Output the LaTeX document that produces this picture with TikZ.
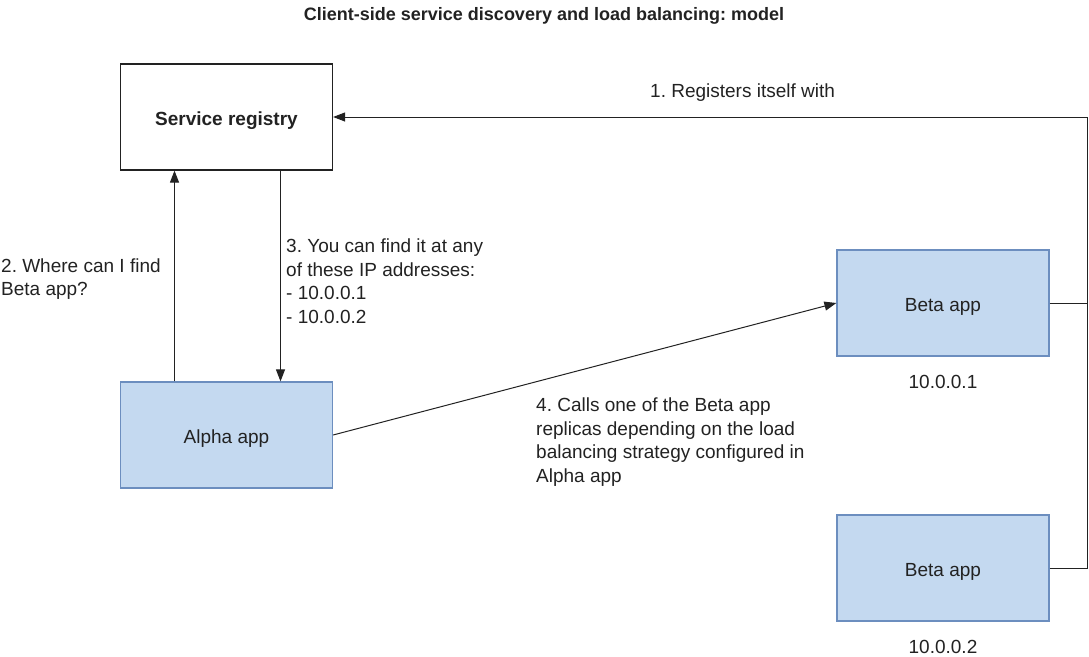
\documentclass[tikz,border=0pt]{standalone}
\usepackage{fontspec}
\setmainfont{Liberation Sans}
\usepackage{tikz}
\usetikzlibrary{arrows.meta,positioning}
\definecolor{appfill}{RGB}{196,217,240}
\definecolor{appline}{RGB}{108,142,191}
\definecolor{ink}{RGB}{34,34,34}
\frenchspacing

\begin{document}
\begin{tikzpicture}[x=1pt,y=-1pt,
		txt/.style={font=\fontsize{19}{23.5}\selectfont, text=ink, inner sep=0pt, align=left},
		appbox/.style={txt, align=center, draw=appline, fill=appfill, line width=1.2pt, minimum width=212pt, minimum height=106pt, text height=16pt, text depth=0pt},
		regbox/.style={appbox, draw=ink, fill=white, font=\fontsize{19}{23.5}\selectfont\bfseries},
		conn/.style={draw=ink, line width=1pt},
		arr/.style={conn, -{Triangle[length=12pt,width=9pt]}}]
			\useasboundingbox (0,0) rectangle (1089,656);
			\node[txt, font=\fontsize{18}{22}\selectfont\bfseries] (title) at (544,16) {Client-side service discovery and load balancing: model};
			\node[regbox] (registry) at (226.5,117) {Service registry};
			\node[appbox] (alpha) at (226.5,435) {Alpha app};
			\node[appbox] (beta1) at (943,303) {Beta app};
			\node[appbox] (beta2) at (943,568) {Beta app};
			\node[txt, below=18pt of beta1] (ip1) {10.0.0.1};
			\node[txt, below=18pt of beta2] (ip2) {10.0.0.2};
			\coordinate (bus) at (1087,117);
			\draw[arr] (beta2.east) -| (bus) -- (registry.east);
			\draw[conn] (beta1.east) -- (beta1.east -| bus);
			\draw[arr] ([xshift=-52pt]alpha.north) -- ([xshift=-52pt]registry.south);
			\draw[arr] ([xshift=54pt]registry.south) -- ([xshift=54pt]alpha.north);
			\draw[arr] (alpha.east) -- (beta1.west);
			\node[txt, anchor=west] (step1) at (650,93) {1. Registers itself with};
			\node[txt, anchor=west] (step2) at (1,279) {2. Where can I find\\Beta app?};
			\node[txt, anchor=west] (step3) at (286,281) {3. You can find it at any\\of these IP addresses:\\- 10.0.0.1\\- 10.0.0.2};
			\node[txt, anchor=west] (step4) at (536,442) {4. Calls one of the Beta app\\replicas depending on the load\\balancing strategy configured in\\Alpha app};
		\end{tikzpicture}
\end{document}
